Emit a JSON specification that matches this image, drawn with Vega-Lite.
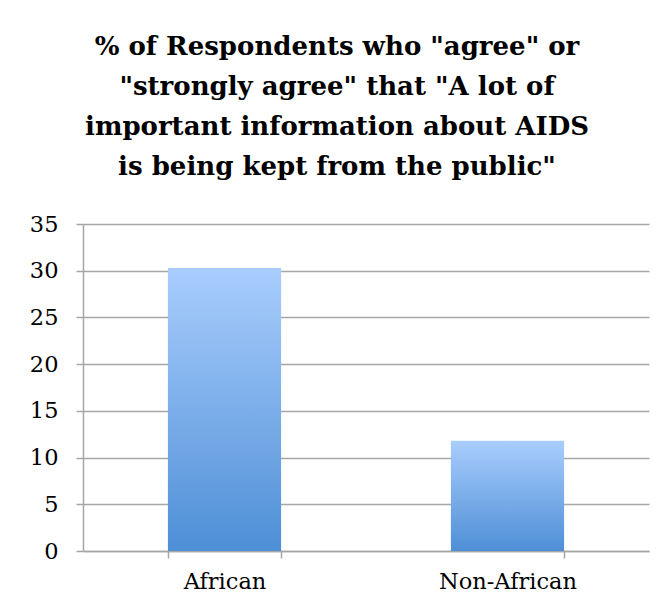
{
  "$schema": "https://vega.github.io/schema/vega-lite/v6.json",
  "autosize": "none",
  "width": 566,
  "height": 327,
  "padding": {"left": 83, "top": 224, "right": 22, "bottom": 62},
  "background": "white",
  "title": {
    "text": ["% of Respondents who \"agree\" or", "\"strongly agree\" that \"A lot of", "important information about AIDS", "is being kept from the public\""],
    "font": "DejaVu Serif",
    "fontSize": 26,
    "fontWeight": "bold",
    "color": "black",
    "lineHeight": 40,
    "anchor": "middle",
    "dx": -29,
    "offset": 33
  },
  "data": {
    "values": [
      {"group": "African", "percent": 30.3},
      {"group": "Non-African", "percent": 11.8}
    ]
  },
  "mark": {
    "type": "bar",
    "color": {
      "gradient": "linear",
      "x1": 0, "y1": 0, "x2": 0, "y2": 1,
      "stops": [
        {"offset": 0, "color": "#a9cdfd"},
        {"offset": 1, "color": "#4e8fd6"}
      ]
    }
  },
  "encoding": {
    "x": {
      "field": "group",
      "type": "nominal",
      "sort": null,
      "scale": {"paddingInner": 0.6, "paddingOuter": 0.3},
      "axis": {
        "title": null,
        "labelAngle": 0,
        "labelFont": "DejaVu Serif",
        "labelFontSize": 22.5,
        "labelColor": "black",
        "labelPadding": 12,
        "domainColor": "#a6a6a6",
        "domainWidth": 1.5,
        "tickColor": "#a6a6a6",
        "tickWidth": 1.5,
        "tickSize": 7,
        "tickBand": "extent",
        "grid": false
      }
    },
    "y": {
      "field": "percent",
      "type": "quantitative",
      "scale": {"domain": [0, 35], "nice": false},
      "axis": {
        "title": null,
        "values": [0, 5, 10, 15, 20, 25, 30, 35],
        "labelFont": "DejaVu Serif",
        "labelFontSize": 22.5,
        "labelColor": "black",
        "labelPadding": 18,
        "domainColor": "#a6a6a6",
        "domainWidth": 1.5,
        "tickColor": "#a6a6a6",
        "tickWidth": 1.5,
        "tickSize": 7,
        "grid": true,
        "gridColor": "#a6a6a6",
        "gridWidth": 1.5,
        "gridOpacity": 1
      }
    }
  },
  "config": {
    "view": {"stroke": null}
  }
}
